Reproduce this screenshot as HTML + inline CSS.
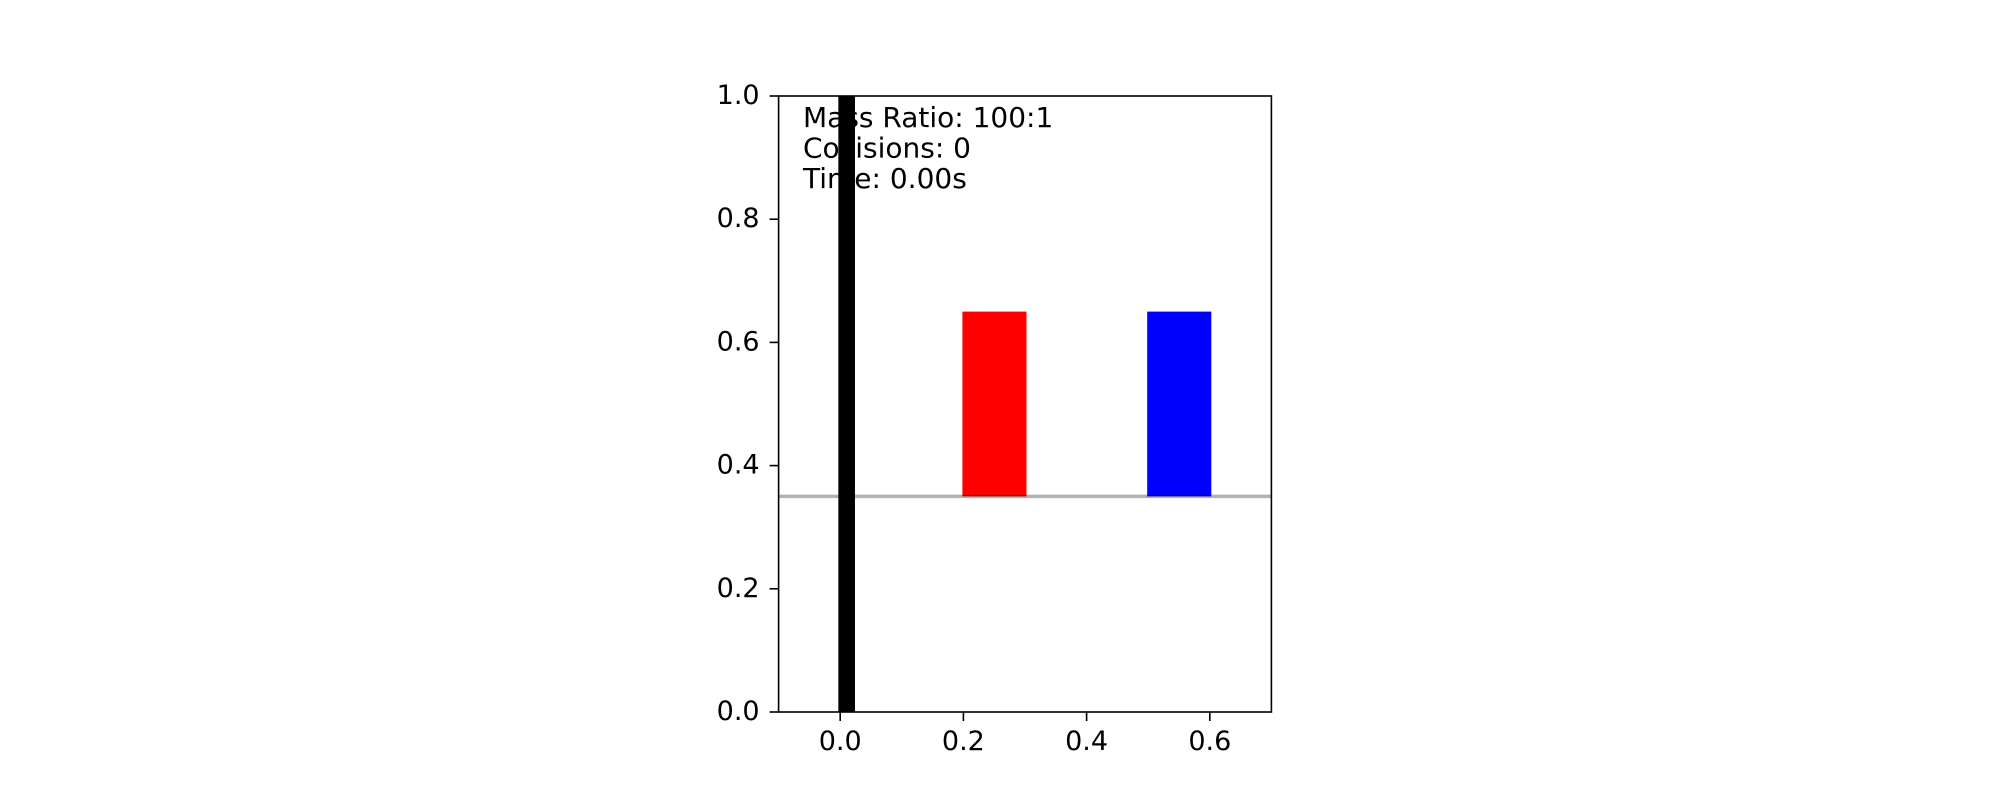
<!DOCTYPE html>
<html><head><meta charset="utf-8"><style>
html,body{margin:0;padding:0;background:#fff;}
svg text{font-family:"DejaVu Sans","Liberation Sans",sans-serif;font-size:27px;fill:#000;}
svg text.info{font-size:28px;}
</style></head><body>
<svg id="chart" width="2000" height="800" viewBox="0 0 2000 800" xmlns="http://www.w3.org/2000/svg">
<rect x="0" y="0" width="2000" height="800" fill="#fff"/>
<g id="marks"></g>
<g id="axes"></g>
</svg>
<script>
const xTicks = [0.0, 0.2, 0.4, 0.6];
const xTickLabels = ["0.0", "0.2", "0.4", "0.6"];
const yTicks = [0.0, 0.2, 0.4, 0.6, 0.8, 1.0];
const yTickLabels = ["0.0", "0.2", "0.4", "0.6", "0.8", "1.0"];
const blockNames = ["block-small-red", "block-large-blue"];
const blockX0 = [0.2, 0.5];
const blockX1 = [0.3, 0.6];
const blockY0 = [0.35, 0.35];
const blockY1 = [0.65, 0.65];
const blockColors = ["#ff0000", "#0000ff"];
const wallX = [-0.003, 0.024];
const floorY = 0.35;
const infoLines = ["Mass Ratio: 100:1", "Collisions: 0", "Time: 0.00s"];

const NS = "http://www.w3.org/2000/svg";
const L = 778.6, R = 1271.4, T = 96, B = 712;
const xMin = -0.1, xMax = 0.7, yMin = 0, yMax = 1;
const sx = v => L + (v - xMin) / (xMax - xMin) * (R - L);
const sy = v => B - (v - yMin) / (yMax - yMin) * (B - T);
function mk(tag, attrs, parent){const e=document.createElementNS(NS,tag);for(const k in attrs)e.setAttribute(k,attrs[k]);parent.appendChild(e);return e;}
const marks = document.getElementById('marks');
const axes = document.getElementById('axes');

blockNames.forEach((n,i)=>{
  const x0 = sx(blockX0[i]) - 1, x1 = sx(blockX1[i]) + 1.5;
  const r = mk('rect',{x:x0,y:sy(blockY1[i]),width:x1-x0,height:sy(blockY0[i])-sy(blockY1[i]),fill:blockColors[i]},marks);
  
  
});
const fl = mk('line',{x1:L,x2:R,y1:sy(floorY),y2:sy(floorY),stroke:'#000','stroke-opacity':0.3,'stroke-width':3.5},marks);


const wall = mk('rect',{x:sx(wallX[0]),y:T,width:sx(wallX[1])-sx(wallX[0]),height:B-T,fill:'#000'},marks);



infoLines.forEach((s,i)=>{
  const t = mk('text',{x:803,y:127+i*30.5,'class':'info'},marks);
  t.textContent = s;
  
  
});

const frame = mk('rect',{x:L,y:T,width:R-L,height:B-T,fill:'none',stroke:'#000','stroke-width':1.6},axes);



xTicks.forEach((v,i)=>{
  const x = sx(v);
  const tk = mk('line',{x1:x,x2:x,y1:B,y2:B+9,stroke:'#000','stroke-width':1.6},axes);
  
  
  const t = mk('text',{x:x,y:B+38,'text-anchor':'middle'},axes);
  t.textContent = xTickLabels[i];
  
  
});
yTicks.forEach((v,i)=>{
  const y = sy(v);
  const tk = mk('line',{x1:L-9,x2:L,y1:y,y2:y,stroke:'#000','stroke-width':1.6},axes);
  
  
  const t = mk('text',{x:L-19,y:y+8,'text-anchor':'end'},axes);
  t.textContent = yTickLabels[i];
  
  
});
</script>
</body></html>
